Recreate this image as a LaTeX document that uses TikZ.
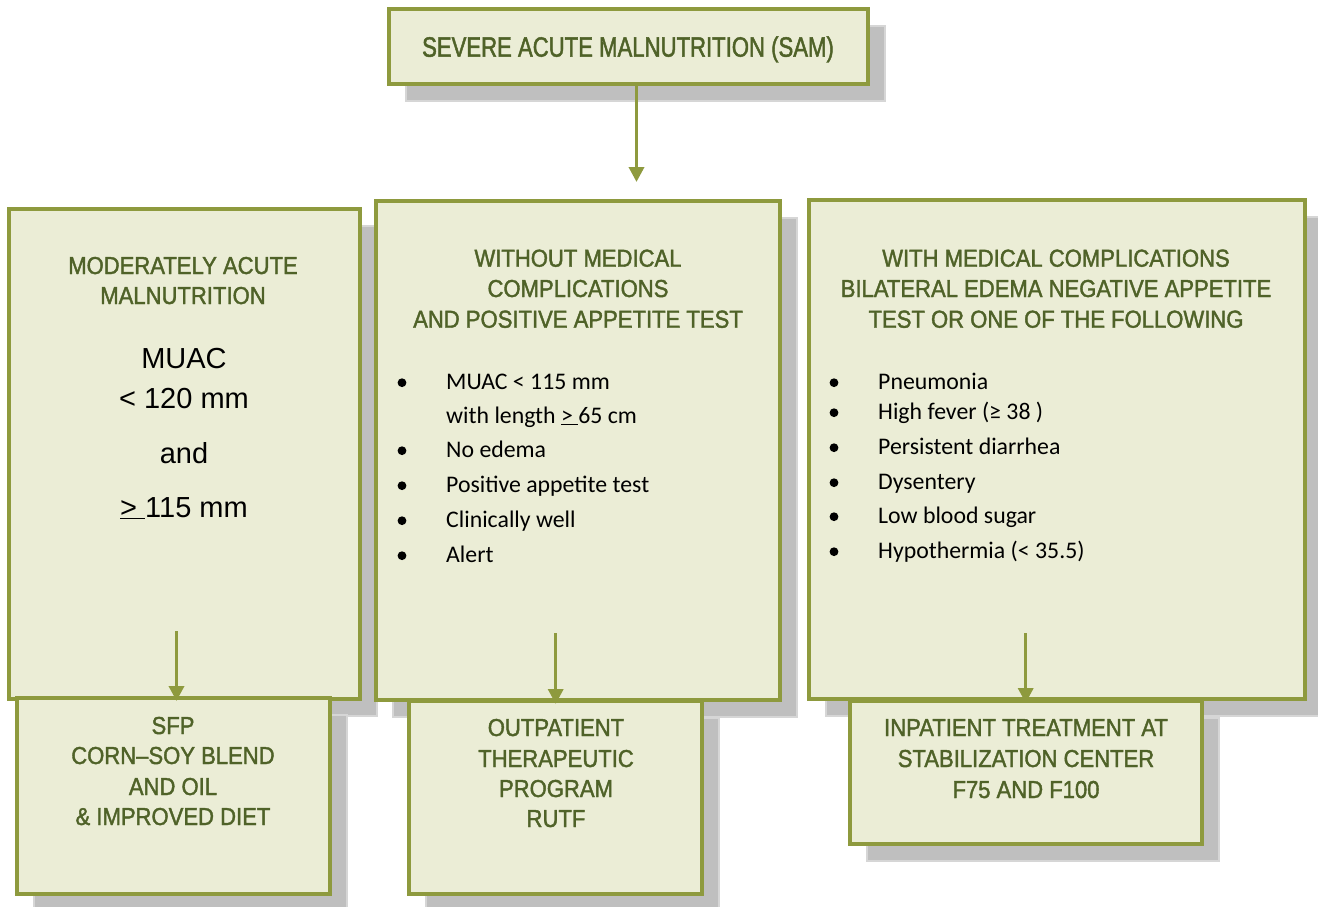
\documentclass[tikz,border=0pt]{standalone}
\usepackage{fontspec}
\usetikzlibrary{arrows.meta,shadows}
\newfontfamily\ttlfont[FakeStretch=0.79,FakeBold=1.6]{Liberation Sans}
\newfontfamily\hdrfont[FakeStretch=0.9,FakeBold=1.6]{Liberation Sans}
\newfontfamily\calfont{Carlito}
\newfontfamily\arifont{Liberation Sans}
\definecolor{boxfill}{HTML}{EBEDD6}
\definecolor{boxline}{HTML}{8E9A3E}
\definecolor{hdrtext}{HTML}{4F6228}
\definecolor{shadowgray}{HTML}{BFBFBF}
\definecolor{shadowedge}{HTML}{D6D6D6}
\tikzset{
  box/.style={draw=boxline, line width=4pt, fill=boxfill, inner sep=0pt,
    drop shadow={shadow xshift=17pt, shadow yshift=-17pt, fill=shadowgray,
      draw=shadowedge, line width=1.2pt, opacity=1}},
  hdr/.style={anchor=base, inner sep=0pt, text=hdrtext, font=\hdrfont\fontsize{24.5}{29}\selectfont},
  ttl/.style={anchor=base, inner sep=0pt, text=hdrtext, font=\ttlfont\fontsize{28}{32}\selectfont},
  item/.style={anchor=base west, inner sep=0pt, font=\calfont\fontsize{23.8}{28}\selectfont},
  big/.style={anchor=base, inner sep=0pt, font=\arifont\fontsize{29}{34}\selectfont},
  conn/.style={draw=boxline, line width=3.5pt, -{Triangle[width=15pt,length=15pt]}},
  bul/.style={fill=black},
}
\begin{document}
\begin{tikzpicture}[x=1pt,y=-1pt]
\useasboundingbox (0,0) rectangle (1318,907);

% boxes
\node[box, minimum width=479pt, minimum height=75pt] (top) at (628.5,46.5) {};
\node[box, minimum width=351pt, minimum height=490pt] (left) at (184.5,454) {};
\node[box, minimum width=404pt, minimum height=499pt] (mid) at (578,450.5) {};
\node[box, minimum width=496pt, minimum height=499pt] (right) at (1057,449.5) {};
\node[box, minimum width=313pt, minimum height=196pt] (sfp) at (173.5,796) {};
\node[box, minimum width=293pt, minimum height=193pt] (otp) at (555.5,797.5) {};
\node[box, minimum width=352pt, minimum height=143pt] (inp) at (1026,772.5) {};

% title
\node[ttl] (t0) at (628,56.7) {SEVERE ACUTE MALNUTRITION (SAM)};

% left box
\node[hdr] (l1) at (183,274) {MODERATELY ACUTE};
\node[hdr] (l2) at (183,304) {MALNUTRITION};
\node[big] (l3) at (184,368) {MUAC};
\node[big] (l4) at (184,408) {< 120 mm};
\node[big] (l5) at (184,463) {and};
\node[big] (l6) at (184,517) {\underline{> }115 mm};

% middle box
\node[hdr] (m1) at (578,266.7) {WITHOUT MEDICAL};
\node[hdr] (m2) at (578,297) {COMPLICATIONS};
\node[hdr] (m3) at (578,327.7) {AND POSITIVE APPETITE TEST};
\node[item] (mi1) at (446,389) {MUAC < 115 mm};
\node[item] (mi2) at (446,423) {with length \underline{> }65 cm};
\node[item] (mi3) at (446,457) {No edema};
\node[item] (mi4) at (446,492) {Positive appetite test};
\node[item] (mi5) at (446,527) {Clinically well};
\node[item] (mi6) at (446,562) {Alert};
\foreach \yy in {389,457,492,527,562} \fill[bul] (402,\yy-6.3) circle (4.4pt);

% right box
\node[hdr] (r1) at (1056,266.7) {WITH MEDICAL COMPLICATIONS};
\node[hdr] (r2) at (1056,297) {BILATERAL EDEMA NEGATIVE APPETITE};
\node[hdr] (r3) at (1056,327.7) {TEST OR ONE OF THE FOLLOWING};
\node[item] (ri1) at (878,389) {Pneumonia};
\node[item] (ri2) at (878,419) {High fever (≥ 38 )};
\node[item] (ri3) at (878,454) {Persistent diarrhea};
\node[item] (ri4) at (878,489) {Dysentery};
\node[item] (ri5) at (878,523) {Low blood sugar};
\node[item] (ri6) at (878,558) {Hypothermia (< 35.5)};
\foreach \yy in {389,419,454,489,523,558} \fill[bul] (834,\yy-6.3) circle (4.4pt);

% bottom boxes
\node[hdr] (s1) at (173,734) {SFP};
\node[hdr] (s2) at (173,764) {CORN–SOY BLEND};
\node[hdr] (s3) at (173,795) {AND OIL};
\node[hdr] (s4) at (173,825) {\& IMPROVED DIET};
\node[hdr] (o1) at (556,736) {OUTPATIENT};
\node[hdr] (o2) at (556,767) {THERAPEUTIC};
\node[hdr] (o3) at (556,797) {PROGRAM};
\node[hdr] (o4) at (556,827) {RUTF};
\node[hdr] (i1) at (1026,736) {INPATIENT TREATMENT AT};
\node[hdr] (i2) at (1026,767) {STABILIZATION CENTER};
\node[hdr] (i3) at (1026,798) {F75 AND F100};

% connectors
\coordinate (a0e) at (636.5,182);
\coordinate (a1s) at (176.5,631);
\coordinate (a2s) at (555.7,633);
\coordinate (a3s) at (1025.7,633);
\draw[conn] (top.south -| a0e) -- (a0e);
\draw[conn, shorten >=-5pt] (a1s) -- (sfp.north -| a1s);
\draw[conn, shorten >=-5pt] (a2s) -- (otp.north -| a2s);
\draw[conn, shorten >=-4pt] (a3s) -- (inp.north -| a3s);
\end{tikzpicture}
\end{document}
